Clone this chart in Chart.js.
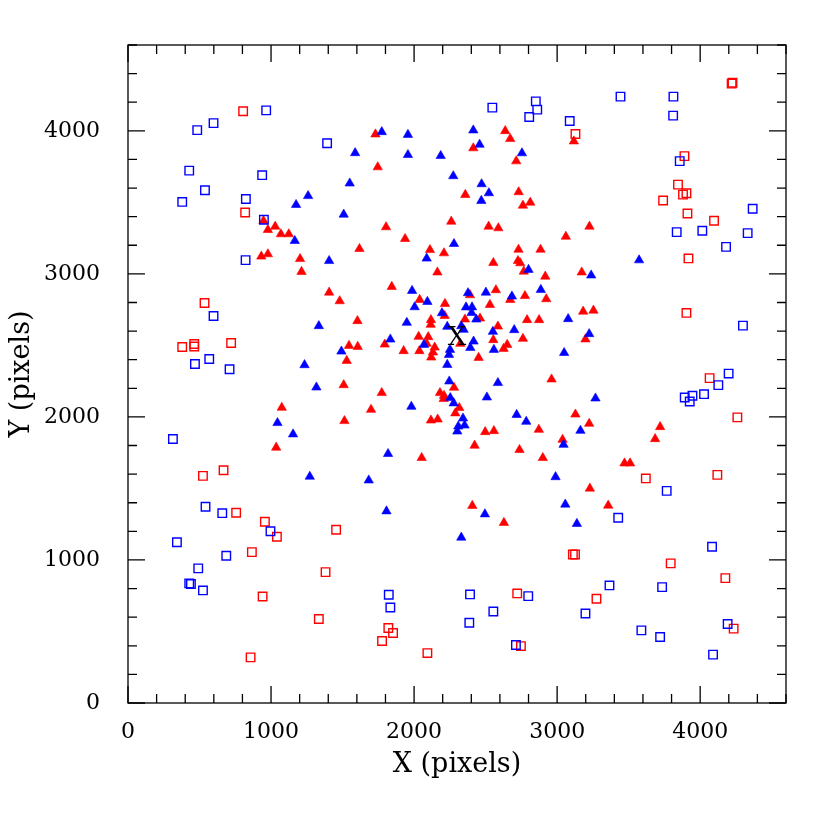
<!DOCTYPE html>
<html>
<head>
<meta charset="utf-8">
<title>X / Y pixels</title>
<script src="https://cdn.jsdelivr.net/npm/chart.js@4"></script>
<style>
  body { margin: 0; background: #fff; }
  #wrap { width: 830px; height: 830px; }
</style>
</head>
<body>
<div id="wrap"><canvas id="plot" width="830" height="830"></canvas></div>
<script>
// values, [X, Y] in pixels
const blueSquares = [
  [966,4143],[484,4005],[598,4054],[1392,3913],[428,3722],[938,3690],[538,3585],[379,3503],
  [824,3523],[950,3378],[822,3096],[2547,4162],[2851,4206],[2861,4148],[2805,4097],[3088,4069],
  [3443,4239],[3813,4239],[3811,4106],[3857,3788],[4367,3455],[3836,3292],[4015,3301],[4332,3285],
  [4181,3189],[598,2705],[468,2370],[568,2405],[710,2333],[314,1846],[542,1372],[659,1327],
  [996,1201],[342,1124],[687,1029],[491,941],[428,836],[440,832],[524,787],[1823,757],
  [1834,668],[2391,759],[2798,747],[2554,640],[2386,561],[2712,405],[3766,1483],[3427,1295],
  [4083,1092],[3366,822],[3734,810],[3198,626],[4192,552],[3589,508],[3720,461],[4090,338],
  [4299,2638],[4199,2303],[4127,2222],[4027,2159],[3946,2148],[3892,2136],[3927,2108]
];
const redSquares = [
  [805,4137],[819,3429],[4220,4330],[4226,4336],[3128,3978],[3890,3823],[3845,3624],[3880,3554],
  [3904,3564],[3741,3513],[3911,3422],[4097,3371],[3918,3108],[535,2796],[379,2489],[463,2510],
  [463,2492],[721,2517],[524,1588],[668,1627],[756,1330],[957,1267],[1041,1162],[1455,1211],
  [866,1055],[1381,915],[941,745],[1334,587],[857,319],[2721,766],[1820,524],[1853,489],
  [1776,433],[2093,349],[2747,398],[3620,1570],[3110,1038],[3125,1038],[3794,976],[4176,873],
  [3275,729],[4234,520],[3904,2727],[4066,2271],[4260,1997],[4120,1595]
];
const blueTriangles = [
  [1588,3845],[1550,3633],[1259,3545],[1175,3483],[1508,3415],[1166,3231],[1406,3091],[1774,3992],
  [1957,3973],[2414,4004],[2458,3904],[2754,3844],[1957,3832],[2186,3825],[2274,3684],[2472,3628],
  [2523,3565],[2470,3511],[2279,3210],[2088,3108],[3573,3096],[1334,2636],[1492,2458],[1234,2363],
  [1317,2207],[1045,1958],[1154,1879],[1271,1583],[1683,1557],[1807,1341],[2495,1320],[2330,1157],
  [3057,1388],[3138,1253],[2989,1580],[3238,2990],[3077,2685],[3224,2580],[3049,2448],[3268,2130],
  [3163,1904],[3045,1806],[2800,3029],[1986,2882],[2093,2805],[2004,2768],[2377,2866],[2502,2870],
  [2684,2843],[2886,2889],[2363,2767],[2405,2767],[2402,2728],[2195,2726],[2435,2682],[1949,2659],
  [2232,2631],[2330,2635],[2346,2610],[2551,2596],[2700,2608],[1834,2542],[2069,2505],[2416,2528],
  [2393,2484],[2558,2470],[2251,2470],[2244,2435],[2232,2365],[2586,2238],[2246,2249],[2253,2133],
  [2277,2096],[2509,2137],[1981,2072],[2342,1990],[2353,1941],[2309,1934],[2302,1899],[2717,2015],
  [2784,1967],[1818,1742]
];
const redTriangles = [
  [947,3371],[978,3308],[1029,3331],[1069,3278],[1124,3278],[932,3122],[978,3138],[1203,3105],
  [1730,3976],[2637,3999],[2672,3944],[2414,3879],[2714,3788],[1746,3746],[2358,3553],[2731,3572],
  [2812,3499],[2761,3478],[1804,3327],[2260,3366],[2521,3331],[2589,3320],[3061,3261],[1937,3245],
  [1618,3175],[2111,3168],[2209,3145],[2730,3170],[2884,3170],[2554,3077],[2726,3091],[2742,3075],
  [3117,3927],[3226,3331],[1213,3015],[1406,2870],[1480,2810],[1545,2498],[1529,2393],[1508,2223],
  [1075,2065],[1513,1972],[1036,1786],[2407,1379],[2628,1260],[3229,1500],[3357,1381],[3172,3011],
  [3182,2737],[3254,2744],[3198,2543],[3128,2018],[3224,1953],[3720,1930],[3685,1846],[3038,1841],
  [3471,1676],[3510,1676],[2767,3017],[2917,2982],[2163,3011],[1844,2910],[2039,2819],[2216,2791],
  [2391,2852],[2572,2887],[2672,2819],[2775,2846],[2924,2824],[2530,2784],[2214,2707],[2461,2689],
  [2356,2682],[2118,2678],[2116,2645],[1604,2671],[2790,2678],[2874,2678],[2586,2633],[2761,2547],
  [2554,2538],[2032,2561],[2099,2559],[1795,2507],[2088,2512],[2144,2486],[2323,2512],[2651,2505],
  [2626,2477],[1606,2491],[1927,2461],[2037,2461],[2132,2451],[2120,2416],[2451,2414],[2961,2263],
  [2279,2205],[1774,2168],[2181,2168],[2209,2149],[2207,2126],[2316,2063],[2288,2026],[1699,2051],
  [2118,1976],[2165,1983],[2872,1911],[2497,1895],[2558,1902],[2423,1800],[2737,1770],[2900,1714],
  [2053,1714]
];
const centreMark = [2300, 2550];   // where the "X" sits
const tickLabels = [0, 1000, 2000, 3000, 4000];
const axisMax = 4600;
const majorStep = 1000;
const minorStep = 200;

const FONT = "'DejaVu Serif', 'Liberation Serif', serif";

function toPoints(list) {
  return list.map(p => ({ x: p[0], y: p[1] }));
}

// frame with inward ticks on all four sides, like the original plot
const framePlugin = {
  id: 'frame',
  beforeDatasetsDraw(chart) {
    const { ctx, chartArea: a, scales } = chart;
    ctx.save();
    ctx.strokeStyle = '#000';
    ctx.lineWidth = 1.3;
    ctx.strokeRect(a.left, a.top, a.right - a.left, a.bottom - a.top);
    ctx.beginPath();
    for (let v = 0; v <= axisMax; v += minorStep) {
      const len = v % majorStep === 0 ? 17 : 9;
      const px = scales.x.getPixelForValue(v);
      const py = scales.y.getPixelForValue(v);
      ctx.moveTo(px, a.bottom); ctx.lineTo(px, a.bottom - len);
      ctx.moveTo(px, a.top); ctx.lineTo(px, a.top + len);
      ctx.moveTo(a.left, py); ctx.lineTo(a.left + len, py);
      ctx.moveTo(a.right, py); ctx.lineTo(a.right - len, py);
    }
    ctx.stroke();
    ctx.restore();
  },
  afterDatasetsDraw(chart) {
    const { ctx, scales } = chart;
    ctx.save();
    ctx.fillStyle = '#000';
    ctx.font = '26px ' + FONT;
    ctx.textAlign = 'center';
    ctx.textBaseline = 'middle';
    ctx.fillText('X', scales.x.getPixelForValue(centreMark[0]), scales.y.getPixelForValue(centreMark[1]));
    ctx.restore();
  }
};

function fixedTicks(scale) {
  scale.ticks = tickLabels.map(v => ({ value: v }));
}

const squareStyle = { pointStyle: 'rect', pointRadius: 6, borderWidth: 1.4, backgroundColor: 'rgba(0,0,0,0)' };
const triStyle = { pointStyle: 'triangle', pointRadius: 5.4, borderWidth: 0.6 };

const ctx = document.getElementById('plot').getContext('2d');
const chart = new Chart(ctx, {
  type: 'scatter',
  data: {
    datasets: [
      Object.assign({ label: 'blue squares', data: toPoints(blueSquares), borderColor: '#0000ff' }, squareStyle),
      Object.assign({ label: 'red squares', data: toPoints(redSquares), borderColor: '#ff0000' }, squareStyle),
      Object.assign({ label: 'blue triangles', data: toPoints(blueTriangles), borderColor: '#0000ff', backgroundColor: '#0000ff' }, triStyle),
      Object.assign({ label: 'red triangles', data: toPoints(redTriangles), borderColor: '#ff0000', backgroundColor: '#ff0000' }, triStyle)
    ]
  },
  options: {
    responsive: false,
    animation: false,
    layout: { padding: { top: 45, right: 44, left: 0, bottom: 0 } },
    plugins: { legend: { display: false }, tooltip: { enabled: false } },
    scales: {
      x: {
        type: 'linear', min: 0, max: axisMax,
        grid: { display: false }, border: { display: false },
        ticks: { padding: 8, color: '#000', font: { family: FONT, size: 22 },
                 callback: v => String(v), maxRotation: 0, autoSkip: false },
        title: { display: true, text: 'X (pixels)', color: '#000', font: { family: FONT, size: 27 },
                 padding: { top: 4, bottom: 49 } },
        afterBuildTicks: fixedTicks,
        afterFit(scale) { scale.height = 127; }
      },
      y: {
        type: 'linear', min: 0, max: axisMax,
        grid: { display: false }, border: { display: false },
        ticks: { padding: 20, color: '#000', font: { family: FONT, size: 22 },
                 callback: v => String(v), autoSkip: false },
        title: { display: true, text: 'Y (pixels)', color: '#000', font: { family: FONT, size: 27 },
                 padding: { top: 6, bottom: 4 } },
        afterBuildTicks: fixedTicks,
        afterFit(scale) { scale.width = 128; }
      }
    }
  },
  plugins: [framePlugin]
});
</script>
</body>
</html>
